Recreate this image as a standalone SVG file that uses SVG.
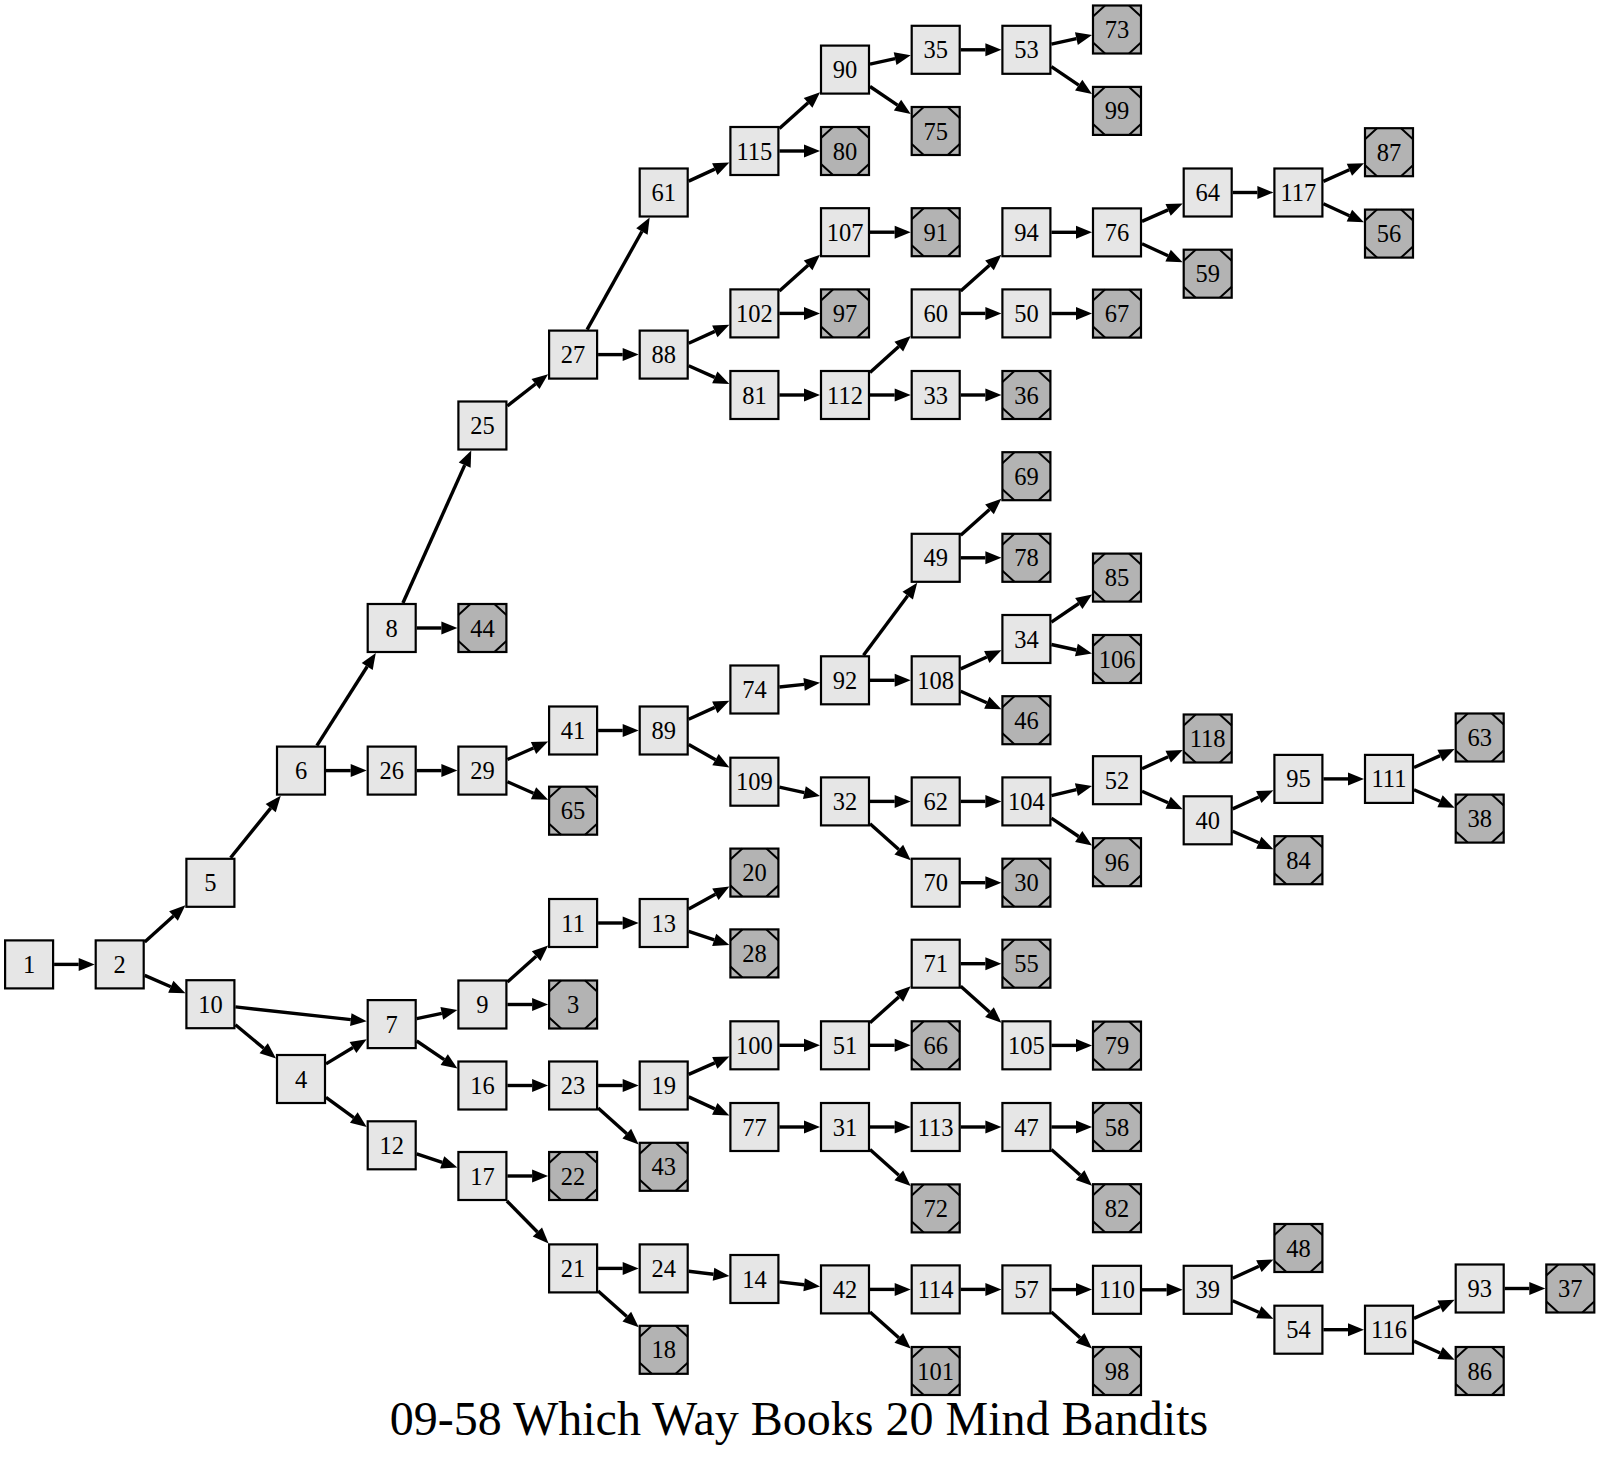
<svg xmlns="http://www.w3.org/2000/svg" xmlns:xlink="http://www.w3.org/1999/xlink" width="1600" height="1459" viewBox="0 0 1600 1459">
<style>
.n rect{stroke:#000;stroke-width:2.2;fill:#e6e6e6}
.g rect{fill:#b3b3b3}
.d{fill:none;stroke:#000;stroke-width:2}
.n text{font-family:"Liberation Serif","Times New Roman",serif;font-size:24.5px;text-anchor:middle;fill:#000}
#edges path{fill:none;stroke:#000;stroke-width:3.4;marker-end:url(#ah)}
.title{font-family:"Liberation Serif","Times New Roman",serif;font-size:48px;text-anchor:middle;fill:#000}
</style>
<defs>
<marker id="ah" markerUnits="userSpaceOnUse" markerWidth="17" markerHeight="14" refX="0" refY="6.5" orient="auto" overflow="visible"><path d="M0,0 L16,6.5 L0,13 z" fill="#000"/></marker>
<path id="ms" class="d" d="M-24,-13 L-12,-24 M12,-24 L24,-13 M24,13 L12,24 M-12,24 L-24,13"/>
</defs>
<rect width="1600" height="1459" fill="#fff"/>
<g id="edges">
<path d="M54.1,964.4 L78.7,964.4"/>
<path d="M144.7,941.9 L173.5,916.0"/>
<path d="M144.7,975.4 L170.8,986.8"/>
<path d="M230.6,857.8 L270.7,808.1"/>
<path d="M235.4,1006.9 L350.8,1019.6"/>
<path d="M235.4,1024.8 L263.7,1048.2"/>
<path d="M316.9,745.6 L367.2,666.5"/>
<path d="M326,770.6 L350.7,770.6"/>
<path d="M326,1063.9 L353.0,1047.5"/>
<path d="M326,1097.3 L353.8,1117.6"/>
<path d="M402.9,603 L464.7,465.1"/>
<path d="M416.7,628 L441.4,628"/>
<path d="M416.7,770.6 L441.4,770.6"/>
<path d="M416.7,1018.7 L441.8,1013.3"/>
<path d="M416.7,1041.0 L444.2,1059.6"/>
<path d="M416.7,1153.8 L442.2,1162.4"/>
<path d="M507.4,406.0 L535.5,384.0"/>
<path d="M507.4,759.5 L533.5,748.0"/>
<path d="M507.4,781.7 L533.5,793.2"/>
<path d="M507.4,982.0 L536.2,956.2"/>
<path d="M507.4,1004.5 L532.1,1004.5"/>
<path d="M507.4,1085.5 L532.1,1085.5"/>
<path d="M507.4,1176 L532.1,1176"/>
<path d="M506.9,1201 L537.4,1232.0"/>
<path d="M587.1,329.6 L641.9,231.5"/>
<path d="M598.1,354.6 L622.7,354.6"/>
<path d="M598.1,730.5 L622.7,730.5"/>
<path d="M598.1,923 L622.7,923"/>
<path d="M598.1,1085.5 L622.7,1085.5"/>
<path d="M598.1,1107.9 L626.8,1133.7"/>
<path d="M598.1,1268.4 L622.7,1268.4"/>
<path d="M598.1,1290.9 L626.8,1316.6"/>
<path d="M688.7,181.1 L714.8,169.1"/>
<path d="M688.7,343.2 L714.8,331.4"/>
<path d="M688.7,365.7 L714.8,377.4"/>
<path d="M688.7,719.2 L714.8,707.4"/>
<path d="M688.7,744.6 L715.5,759.7"/>
<path d="M688.7,909.1 L715.4,894.3"/>
<path d="M688.7,931.4 L714.2,939.9"/>
<path d="M688.7,1074.4 L714.8,1062.9"/>
<path d="M688.7,1096.9 L714.8,1108.9"/>
<path d="M688.7,1271.3 L713.5,1274.2"/>
<path d="M779.4,128.5 L808.1,102.8"/>
<path d="M779.4,151 L804,151"/>
<path d="M779.4,291.0 L808.1,265.3"/>
<path d="M779.4,313.4 L804,313.4"/>
<path d="M779.4,395 L804,395"/>
<path d="M779.4,687.0 L804.1,684.4"/>
<path d="M779.4,787.1 L804.4,792.6"/>
<path d="M779.4,1045.3 L804,1045.3"/>
<path d="M779.4,1127 L804,1127"/>
<path d="M779.4,1281.9 L804.1,1284.7"/>
<path d="M870,64.1 L895.1,58.7"/>
<path d="M870,86.5 L897.5,105.1"/>
<path d="M870,232.2 L894.7,232.2"/>
<path d="M870,372.5 L898.8,346.6"/>
<path d="M870,395 L894.7,395"/>
<path d="M863.5,655.3 L907.7,595.7"/>
<path d="M870,680.3 L894.7,680.3"/>
<path d="M870,801.4 L894.7,801.4"/>
<path d="M870,823.8 L898.8,849.6"/>
<path d="M870,1022.8 L898.8,996.9"/>
<path d="M870,1045.3 L894.7,1045.3"/>
<path d="M870,1127 L894.7,1127"/>
<path d="M870,1149.4 L898.8,1175.3"/>
<path d="M870,1289.4 L894.7,1289.4"/>
<path d="M870,1311.9 L898.8,1337.8"/>
<path d="M960.7,49.8 L985.4,49.8"/>
<path d="M960.7,291.0 L989.5,265.3"/>
<path d="M960.7,313.4 L985.4,313.4"/>
<path d="M960.7,395 L985.4,395"/>
<path d="M960.7,535.3 L989.5,509.4"/>
<path d="M960.7,557.8 L985.4,557.8"/>
<path d="M960.7,668.9 L986.8,657.0"/>
<path d="M960.7,691.3 L986.8,702.8"/>
<path d="M960.7,801.4 L985.4,801.4"/>
<path d="M960.7,882.7 L985.4,882.7"/>
<path d="M960.7,963.7 L985.4,963.7"/>
<path d="M960.7,986.2 L989.5,1012.1"/>
<path d="M960.7,1127 L985.4,1127"/>
<path d="M960.7,1289.4 L985.4,1289.4"/>
<path d="M1051.4,44.2 L1076.4,38.6"/>
<path d="M1051.4,66.7 L1078.7,85.1"/>
<path d="M1051.4,232.3 L1076,232.3"/>
<path d="M1051.4,313.5 L1076,313.5"/>
<path d="M1051.4,622.1 L1078.8,603.5"/>
<path d="M1051.4,644.5 L1076.4,650.0"/>
<path d="M1051.4,795.6 L1076.4,789.7"/>
<path d="M1051.4,818.2 L1078.7,836.5"/>
<path d="M1051.4,1045.4 L1076,1045.4"/>
<path d="M1051.4,1127 L1076,1127"/>
<path d="M1051.4,1149.4 L1080.1,1175.1"/>
<path d="M1051.4,1289.6 L1076,1289.6"/>
<path d="M1051.4,1311.9 L1080.1,1337.8"/>
<path d="M1142,221.4 L1168.1,209.9"/>
<path d="M1142,243.8 L1168.1,255.7"/>
<path d="M1142,768.7 L1168.2,756.7"/>
<path d="M1142,791.3 L1168.1,802.8"/>
<path d="M1142,1289.8 L1166.7,1289.8"/>
<path d="M1232.7,192.5 L1257.4,192.5"/>
<path d="M1232.7,808.9 L1258.8,797.0"/>
<path d="M1232.7,831.3 L1258.8,842.8"/>
<path d="M1232.7,1278.3 L1258.9,1266.2"/>
<path d="M1232.7,1300.8 L1258.8,1312.3"/>
<path d="M1323.4,181.4 L1349.4,169.8"/>
<path d="M1323.4,203.8 L1349.4,215.7"/>
<path d="M1323.4,778.9 L1348,778.9"/>
<path d="M1323.4,1329.7 L1348,1329.7"/>
<path d="M1414,767.5 L1440.1,755.6"/>
<path d="M1414,789.8 L1440.0,801.3"/>
<path d="M1414,1318.4 L1440.1,1306.5"/>
<path d="M1414,1341.1 L1440.1,1353.0"/>
<path d="M1504.7,1288.5 L1529.3,1288.5"/>
</g>
<g id="node1" class="n" transform="translate(29.1,964.4)"><rect x="-24" y="-24" width="48" height="48"/><text y="8.5">1</text></g>
<g id="node2" class="n" transform="translate(119.7,964.4)"><rect x="-24" y="-24" width="48" height="48"/><text y="8.5">2</text></g>
<g id="node5" class="n" transform="translate(210.4,882.8)"><rect x="-24" y="-24" width="48" height="48"/><text y="8.5">5</text></g>
<g id="node10" class="n" transform="translate(210.4,1004.2)"><rect x="-24" y="-24" width="48" height="48"/><text y="8.5">10</text></g>
<g id="node6" class="n" transform="translate(301,770.6)"><rect x="-24" y="-24" width="48" height="48"/><text y="8.5">6</text></g>
<g id="node4" class="n" transform="translate(301,1079)"><rect x="-24" y="-24" width="48" height="48"/><text y="8.5">4</text></g>
<g id="node8" class="n" transform="translate(391.7,628)"><rect x="-24" y="-24" width="48" height="48"/><text y="8.5">8</text></g>
<g id="node26" class="n" transform="translate(391.7,770.6)"><rect x="-24" y="-24" width="48" height="48"/><text y="8.5">26</text></g>
<g id="node7" class="n" transform="translate(391.7,1024.1)"><rect x="-24" y="-24" width="48" height="48"/><text y="8.5">7</text></g>
<g id="node12" class="n" transform="translate(391.7,1145.3)"><rect x="-24" y="-24" width="48" height="48"/><text y="8.5">12</text></g>
<g id="node25" class="n" transform="translate(482.4,425.5)"><rect x="-24" y="-24" width="48" height="48"/><text y="8.5">25</text></g>
<g id="node44" class="n g" transform="translate(482.4,628)"><rect x="-24" y="-24" width="48" height="48"/><use xlink:href="#ms"/><text y="8.5">44</text></g>
<g id="node29" class="n" transform="translate(482.4,770.6)"><rect x="-24" y="-24" width="48" height="48"/><text y="8.5">29</text></g>
<g id="node9" class="n" transform="translate(482.4,1004.5)"><rect x="-24" y="-24" width="48" height="48"/><text y="8.5">9</text></g>
<g id="node16" class="n" transform="translate(482.4,1085.5)"><rect x="-24" y="-24" width="48" height="48"/><text y="8.5">16</text></g>
<g id="node17" class="n" transform="translate(482.4,1176)"><rect x="-24" y="-24" width="48" height="48"/><text y="8.5">17</text></g>
<g id="node27" class="n" transform="translate(573.1,354.6)"><rect x="-24" y="-24" width="48" height="48"/><text y="8.5">27</text></g>
<g id="node41" class="n" transform="translate(573.1,730.5)"><rect x="-24" y="-24" width="48" height="48"/><text y="8.5">41</text></g>
<g id="node65" class="n g" transform="translate(573.1,810.7)"><rect x="-24" y="-24" width="48" height="48"/><use xlink:href="#ms"/><text y="8.5">65</text></g>
<g id="node11" class="n" transform="translate(573.1,923)"><rect x="-24" y="-24" width="48" height="48"/><text y="8.5">11</text></g>
<g id="node3" class="n g" transform="translate(573.1,1004.5)"><rect x="-24" y="-24" width="48" height="48"/><use xlink:href="#ms"/><text y="8.5">3</text></g>
<g id="node23" class="n" transform="translate(573.1,1085.5)"><rect x="-24" y="-24" width="48" height="48"/><text y="8.5">23</text></g>
<g id="node22" class="n g" transform="translate(573.1,1176)"><rect x="-24" y="-24" width="48" height="48"/><use xlink:href="#ms"/><text y="8.5">22</text></g>
<g id="node21" class="n" transform="translate(573.1,1268.4)"><rect x="-24" y="-24" width="48" height="48"/><text y="8.5">21</text></g>
<g id="node61" class="n" transform="translate(663.7,192.5)"><rect x="-24" y="-24" width="48" height="48"/><text y="8.5">61</text></g>
<g id="node88" class="n" transform="translate(663.7,354.6)"><rect x="-24" y="-24" width="48" height="48"/><text y="8.5">88</text></g>
<g id="node89" class="n" transform="translate(663.7,730.5)"><rect x="-24" y="-24" width="48" height="48"/><text y="8.5">89</text></g>
<g id="node13" class="n" transform="translate(663.7,923)"><rect x="-24" y="-24" width="48" height="48"/><text y="8.5">13</text></g>
<g id="node19" class="n" transform="translate(663.7,1085.5)"><rect x="-24" y="-24" width="48" height="48"/><text y="8.5">19</text></g>
<g id="node43" class="n g" transform="translate(663.7,1166.8)"><rect x="-24" y="-24" width="48" height="48"/><use xlink:href="#ms"/><text y="8.5">43</text></g>
<g id="node24" class="n" transform="translate(663.7,1268.4)"><rect x="-24" y="-24" width="48" height="48"/><text y="8.5">24</text></g>
<g id="node18" class="n g" transform="translate(663.7,1349.8)"><rect x="-24" y="-24" width="48" height="48"/><use xlink:href="#ms"/><text y="8.5">18</text></g>
<g id="node115" class="n" transform="translate(754.4,151)"><rect x="-24" y="-24" width="48" height="48"/><text y="8.5">115</text></g>
<g id="node102" class="n" transform="translate(754.4,313.4)"><rect x="-24" y="-24" width="48" height="48"/><text y="8.5">102</text></g>
<g id="node81" class="n" transform="translate(754.4,395)"><rect x="-24" y="-24" width="48" height="48"/><text y="8.5">81</text></g>
<g id="node74" class="n" transform="translate(754.4,689.5)"><rect x="-24" y="-24" width="48" height="48"/><text y="8.5">74</text></g>
<g id="node109" class="n" transform="translate(754.4,781.7)"><rect x="-24" y="-24" width="48" height="48"/><text y="8.5">109</text></g>
<g id="node20" class="n g" transform="translate(754.4,872.6)"><rect x="-24" y="-24" width="48" height="48"/><use xlink:href="#ms"/><text y="8.5">20</text></g>
<g id="node28" class="n g" transform="translate(754.4,953.4)"><rect x="-24" y="-24" width="48" height="48"/><use xlink:href="#ms"/><text y="8.5">28</text></g>
<g id="node100" class="n" transform="translate(754.4,1045.3)"><rect x="-24" y="-24" width="48" height="48"/><text y="8.5">100</text></g>
<g id="node77" class="n" transform="translate(754.4,1127)"><rect x="-24" y="-24" width="48" height="48"/><text y="8.5">77</text></g>
<g id="node14" class="n" transform="translate(754.4,1279)"><rect x="-24" y="-24" width="48" height="48"/><text y="8.5">14</text></g>
<g id="node90" class="n" transform="translate(845,69.6)"><rect x="-24" y="-24" width="48" height="48"/><text y="8.5">90</text></g>
<g id="node80" class="n g" transform="translate(845,151)"><rect x="-24" y="-24" width="48" height="48"/><use xlink:href="#ms"/><text y="8.5">80</text></g>
<g id="node107" class="n" transform="translate(845,232.2)"><rect x="-24" y="-24" width="48" height="48"/><text y="8.5">107</text></g>
<g id="node97" class="n g" transform="translate(845,313.4)"><rect x="-24" y="-24" width="48" height="48"/><use xlink:href="#ms"/><text y="8.5">97</text></g>
<g id="node112" class="n" transform="translate(845,395)"><rect x="-24" y="-24" width="48" height="48"/><text y="8.5">112</text></g>
<g id="node92" class="n" transform="translate(845,680.3)"><rect x="-24" y="-24" width="48" height="48"/><text y="8.5">92</text></g>
<g id="node32" class="n" transform="translate(845,801.4)"><rect x="-24" y="-24" width="48" height="48"/><text y="8.5">32</text></g>
<g id="node51" class="n" transform="translate(845,1045.3)"><rect x="-24" y="-24" width="48" height="48"/><text y="8.5">51</text></g>
<g id="node31" class="n" transform="translate(845,1127)"><rect x="-24" y="-24" width="48" height="48"/><text y="8.5">31</text></g>
<g id="node42" class="n" transform="translate(845,1289.4)"><rect x="-24" y="-24" width="48" height="48"/><text y="8.5">42</text></g>
<g id="node35" class="n" transform="translate(935.7,49.8)"><rect x="-24" y="-24" width="48" height="48"/><text y="8.5">35</text></g>
<g id="node75" class="n g" transform="translate(935.7,131)"><rect x="-24" y="-24" width="48" height="48"/><use xlink:href="#ms"/><text y="8.5">75</text></g>
<g id="node91" class="n g" transform="translate(935.7,232.2)"><rect x="-24" y="-24" width="48" height="48"/><use xlink:href="#ms"/><text y="8.5">91</text></g>
<g id="node60" class="n" transform="translate(935.7,313.4)"><rect x="-24" y="-24" width="48" height="48"/><text y="8.5">60</text></g>
<g id="node33" class="n" transform="translate(935.7,395)"><rect x="-24" y="-24" width="48" height="48"/><text y="8.5">33</text></g>
<g id="node49" class="n" transform="translate(935.7,557.8)"><rect x="-24" y="-24" width="48" height="48"/><text y="8.5">49</text></g>
<g id="node108" class="n" transform="translate(935.7,680.3)"><rect x="-24" y="-24" width="48" height="48"/><text y="8.5">108</text></g>
<g id="node62" class="n" transform="translate(935.7,801.4)"><rect x="-24" y="-24" width="48" height="48"/><text y="8.5">62</text></g>
<g id="node70" class="n" transform="translate(935.7,882.7)"><rect x="-24" y="-24" width="48" height="48"/><text y="8.5">70</text></g>
<g id="node71" class="n" transform="translate(935.7,963.7)"><rect x="-24" y="-24" width="48" height="48"/><text y="8.5">71</text></g>
<g id="node66" class="n g" transform="translate(935.7,1045.3)"><rect x="-24" y="-24" width="48" height="48"/><use xlink:href="#ms"/><text y="8.5">66</text></g>
<g id="node113" class="n" transform="translate(935.7,1127)"><rect x="-24" y="-24" width="48" height="48"/><text y="8.5">113</text></g>
<g id="node72" class="n g" transform="translate(935.7,1208.4)"><rect x="-24" y="-24" width="48" height="48"/><use xlink:href="#ms"/><text y="8.5">72</text></g>
<g id="node114" class="n" transform="translate(935.7,1289.4)"><rect x="-24" y="-24" width="48" height="48"/><text y="8.5">114</text></g>
<g id="node101" class="n g" transform="translate(935.7,1371)"><rect x="-24" y="-24" width="48" height="48"/><use xlink:href="#ms"/><text y="8.5">101</text></g>
<g id="node53" class="n" transform="translate(1026.4,49.8)"><rect x="-24" y="-24" width="48" height="48"/><text y="8.5">53</text></g>
<g id="node94" class="n" transform="translate(1026.4,232.2)"><rect x="-24" y="-24" width="48" height="48"/><text y="8.5">94</text></g>
<g id="node50" class="n" transform="translate(1026.4,313.4)"><rect x="-24" y="-24" width="48" height="48"/><text y="8.5">50</text></g>
<g id="node36" class="n g" transform="translate(1026.4,395)"><rect x="-24" y="-24" width="48" height="48"/><use xlink:href="#ms"/><text y="8.5">36</text></g>
<g id="node69" class="n g" transform="translate(1026.4,476.2)"><rect x="-24" y="-24" width="48" height="48"/><use xlink:href="#ms"/><text y="8.5">69</text></g>
<g id="node78" class="n g" transform="translate(1026.4,557.8)"><rect x="-24" y="-24" width="48" height="48"/><use xlink:href="#ms"/><text y="8.5">78</text></g>
<g id="node34" class="n" transform="translate(1026.4,639)"><rect x="-24" y="-24" width="48" height="48"/><text y="8.5">34</text></g>
<g id="node46" class="n g" transform="translate(1026.4,720.2)"><rect x="-24" y="-24" width="48" height="48"/><use xlink:href="#ms"/><text y="8.5">46</text></g>
<g id="node104" class="n" transform="translate(1026.4,801.4)"><rect x="-24" y="-24" width="48" height="48"/><text y="8.5">104</text></g>
<g id="node30" class="n g" transform="translate(1026.4,882.7)"><rect x="-24" y="-24" width="48" height="48"/><use xlink:href="#ms"/><text y="8.5">30</text></g>
<g id="node55" class="n g" transform="translate(1026.4,963.7)"><rect x="-24" y="-24" width="48" height="48"/><use xlink:href="#ms"/><text y="8.5">55</text></g>
<g id="node105" class="n" transform="translate(1026.4,1045.3)"><rect x="-24" y="-24" width="48" height="48"/><text y="8.5">105</text></g>
<g id="node47" class="n" transform="translate(1026.4,1127)"><rect x="-24" y="-24" width="48" height="48"/><text y="8.5">47</text></g>
<g id="node57" class="n" transform="translate(1026.4,1289.4)"><rect x="-24" y="-24" width="48" height="48"/><text y="8.5">57</text></g>
<g id="node73" class="n g" transform="translate(1117,29.5)"><rect x="-24" y="-24" width="48" height="48"/><use xlink:href="#ms"/><text y="8.5">73</text></g>
<g id="node99" class="n g" transform="translate(1117,110.9)"><rect x="-24" y="-24" width="48" height="48"/><use xlink:href="#ms"/><text y="8.5">99</text></g>
<g id="node76" class="n" transform="translate(1117,232.4)"><rect x="-24" y="-24" width="48" height="48"/><text y="8.5">76</text></g>
<g id="node67" class="n g" transform="translate(1117,313.6)"><rect x="-24" y="-24" width="48" height="48"/><use xlink:href="#ms"/><text y="8.5">67</text></g>
<g id="node85" class="n g" transform="translate(1117,577.6)"><rect x="-24" y="-24" width="48" height="48"/><use xlink:href="#ms"/><text y="8.5">85</text></g>
<g id="node106" class="n g" transform="translate(1117,659)"><rect x="-24" y="-24" width="48" height="48"/><use xlink:href="#ms"/><text y="8.5">106</text></g>
<g id="node52" class="n" transform="translate(1117,780.2)"><rect x="-24" y="-24" width="48" height="48"/><text y="8.5">52</text></g>
<g id="node96" class="n g" transform="translate(1117,862.2)"><rect x="-24" y="-24" width="48" height="48"/><use xlink:href="#ms"/><text y="8.5">96</text></g>
<g id="node79" class="n g" transform="translate(1117,1045.6)"><rect x="-24" y="-24" width="48" height="48"/><use xlink:href="#ms"/><text y="8.5">79</text></g>
<g id="node58" class="n g" transform="translate(1117,1127)"><rect x="-24" y="-24" width="48" height="48"/><use xlink:href="#ms"/><text y="8.5">58</text></g>
<g id="node82" class="n g" transform="translate(1117,1208.2)"><rect x="-24" y="-24" width="48" height="48"/><use xlink:href="#ms"/><text y="8.5">82</text></g>
<g id="node110" class="n" transform="translate(1117,1289.8)"><rect x="-24" y="-24" width="48" height="48"/><text y="8.5">110</text></g>
<g id="node98" class="n g" transform="translate(1117,1371)"><rect x="-24" y="-24" width="48" height="48"/><use xlink:href="#ms"/><text y="8.5">98</text></g>
<g id="node64" class="n" transform="translate(1207.7,192.5)"><rect x="-24" y="-24" width="48" height="48"/><text y="8.5">64</text></g>
<g id="node59" class="n g" transform="translate(1207.7,273.7)"><rect x="-24" y="-24" width="48" height="48"/><use xlink:href="#ms"/><text y="8.5">59</text></g>
<g id="node118" class="n g" transform="translate(1207.7,738.5)"><rect x="-24" y="-24" width="48" height="48"/><use xlink:href="#ms"/><text y="8.5">118</text></g>
<g id="node40" class="n" transform="translate(1207.7,820.3)"><rect x="-24" y="-24" width="48" height="48"/><text y="8.5">40</text></g>
<g id="node39" class="n" transform="translate(1207.7,1289.8)"><rect x="-24" y="-24" width="48" height="48"/><text y="8.5">39</text></g>
<g id="node117" class="n" transform="translate(1298.4,192.5)"><rect x="-24" y="-24" width="48" height="48"/><text y="8.5">117</text></g>
<g id="node95" class="n" transform="translate(1298.4,778.9)"><rect x="-24" y="-24" width="48" height="48"/><text y="8.5">95</text></g>
<g id="node84" class="n g" transform="translate(1298.4,860.2)"><rect x="-24" y="-24" width="48" height="48"/><use xlink:href="#ms"/><text y="8.5">84</text></g>
<g id="node48" class="n g" transform="translate(1298.4,1248)"><rect x="-24" y="-24" width="48" height="48"/><use xlink:href="#ms"/><text y="8.5">48</text></g>
<g id="node54" class="n" transform="translate(1298.4,1329.7)"><rect x="-24" y="-24" width="48" height="48"/><text y="8.5">54</text></g>
<g id="node87" class="n g" transform="translate(1389,152.2)"><rect x="-24" y="-24" width="48" height="48"/><use xlink:href="#ms"/><text y="8.5">87</text></g>
<g id="node56" class="n g" transform="translate(1389,233.6)"><rect x="-24" y="-24" width="48" height="48"/><use xlink:href="#ms"/><text y="8.5">56</text></g>
<g id="node111" class="n" transform="translate(1389,778.9)"><rect x="-24" y="-24" width="48" height="48"/><text y="8.5">111</text></g>
<g id="node116" class="n" transform="translate(1389,1329.7)"><rect x="-24" y="-24" width="48" height="48"/><text y="8.5">116</text></g>
<g id="node63" class="n g" transform="translate(1479.7,737.5)"><rect x="-24" y="-24" width="48" height="48"/><use xlink:href="#ms"/><text y="8.5">63</text></g>
<g id="node38" class="n g" transform="translate(1479.7,818.6)"><rect x="-24" y="-24" width="48" height="48"/><use xlink:href="#ms"/><text y="8.5">38</text></g>
<g id="node93" class="n" transform="translate(1479.7,1288.5)"><rect x="-24" y="-24" width="48" height="48"/><text y="8.5">93</text></g>
<g id="node86" class="n g" transform="translate(1479.7,1371)"><rect x="-24" y="-24" width="48" height="48"/><use xlink:href="#ms"/><text y="8.5">86</text></g>
<g id="node37" class="n g" transform="translate(1570.3,1288.5)"><rect x="-24" y="-24" width="48" height="48"/><use xlink:href="#ms"/><text y="8.5">37</text></g>
<text class="title" x="799" y="1435">09-58 Which Way Books 20 Mind Bandits</text>
</svg>
